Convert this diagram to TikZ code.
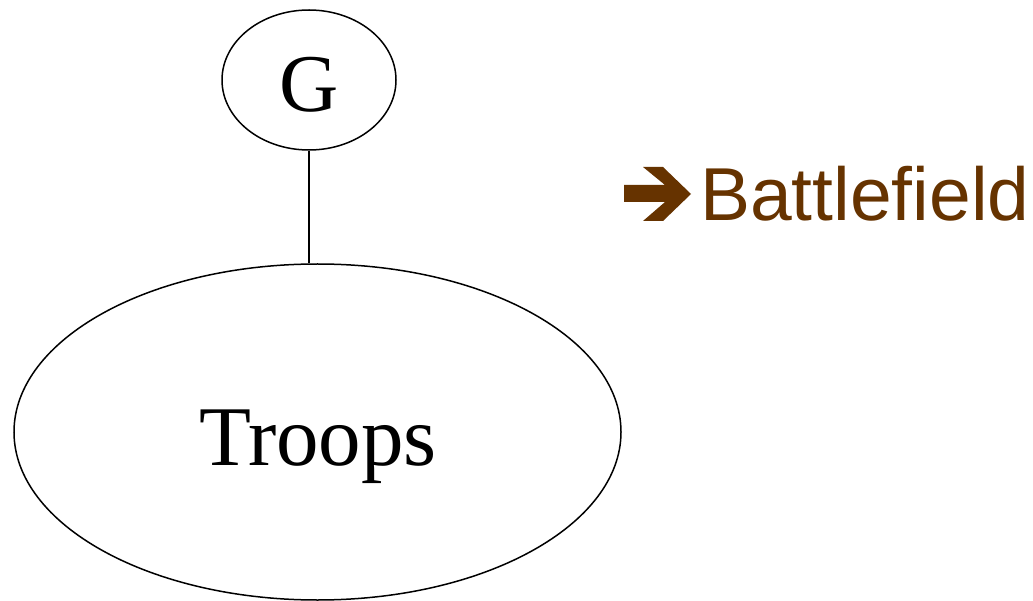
\documentclass[tikz,border=0pt]{standalone}
\usepackage{fontspec}
\setmainfont{Liberation Serif}
\newfontfamily\labelsans{Liberation Sans}
\usetikzlibrary{shapes.geometric}
\definecolor{fieldbrown}{HTML}{663300}
\begin{document}
\begin{tikzpicture}[x=1pt,y=-1pt,
  oval/.style={draw=black,line width=1.5pt,ellipse,inner sep=0pt},
  serifword/.style={inner sep=0pt,anchor=base,font=\fontsize{85}{85}\selectfont}]
  \useasboundingbox[fill=white] (0,0) rectangle (1033,601);
  % general and troops
  \node[oval,minimum width=174pt,minimum height=140pt] (g) at (309,80) {};
  \node[oval,minimum width=607pt,minimum height=336pt] (troops) at (317.5,432) {};
  \node[serifword,font=\fontsize{82}{82}\selectfont] (gtext) at (309,112) {G};
  \node[serifword] (ttext) at (318,465) {Troops};
  \draw[line width=1.5pt] (g.south) -- (g.south |- troops.north);
  % battlefield pointer
  \fill[fieldbrown] (624,185) -- (665,185) -- (643,167) -- (663,167) -- (691,194)
    -- (663,221) -- (643,221) -- (665,202) -- (624,202) -- cycle;
  \node[inner sep=0pt,anchor=base west,text=fieldbrown,
    font=\labelsans\fontsize{75}{75}\selectfont] (field) at (700,221) {Battlefield};
\end{tikzpicture}
\end{document}
